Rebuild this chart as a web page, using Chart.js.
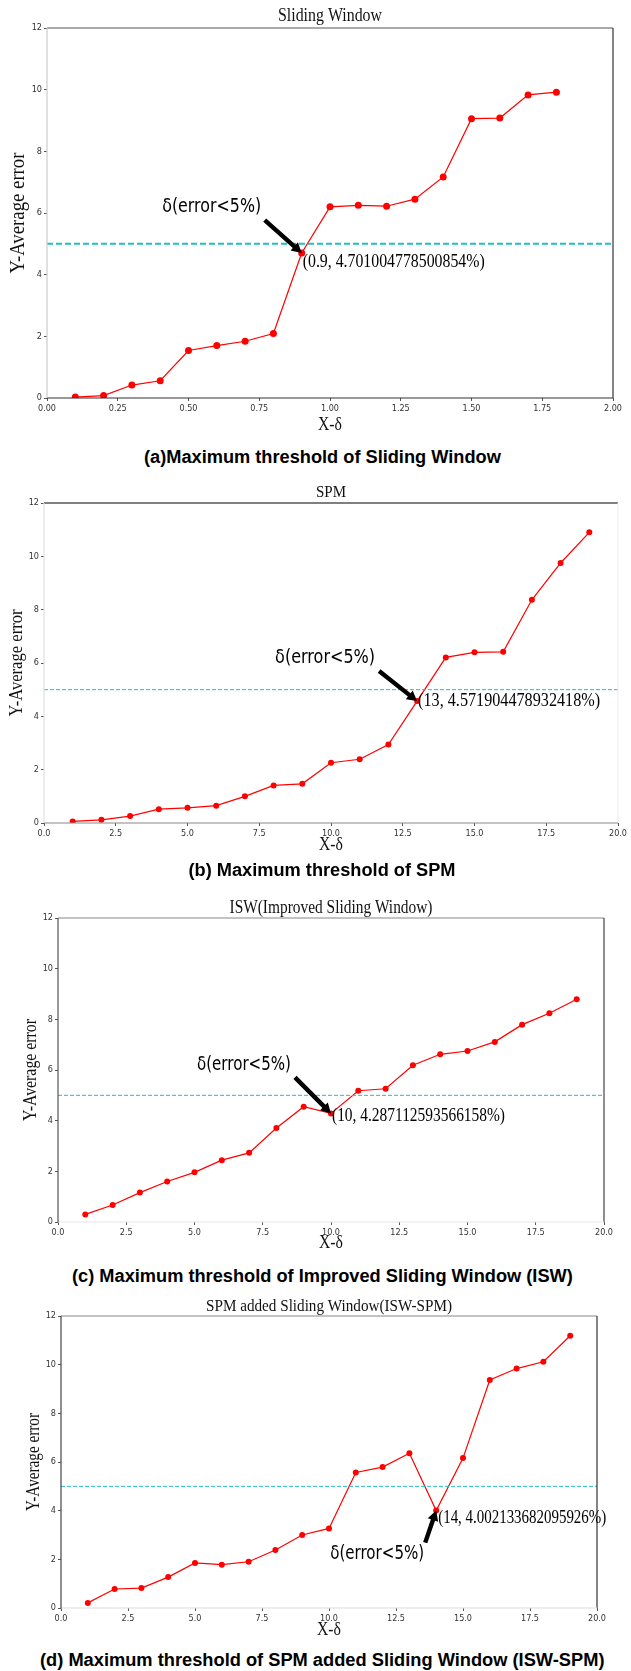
<!DOCTYPE html>
<html>
<head>
<meta charset="utf-8">
<script src="https://cdn.jsdelivr.net/npm/chart.js@4.4.1/dist/chart.umd.min.js"></script>
<style>
  body { margin: 0; background: #fff; }
  #page { position: relative; width: 631px; height: 1671px; overflow: hidden; }
  .panel { position: absolute; left: 0; width: 631px; }
  .caption {
    position: absolute; white-space: nowrap;
    font: bold 18px "Liberation Sans", Arial, sans-serif; color: #000;
    transform-origin: center center;
  }
</style>
</head>
<body>
<div id="page"></div>
<script>
// data
const xA = [0.1, 0.2, 0.3, 0.4, 0.5, 0.6, 0.7, 0.8, 0.9, 1.0, 1.1, 1.2, 1.3, 1.4, 1.5, 1.6, 1.7, 1.8];
const yA = [0.03, 0.08, 0.42, 0.56, 1.54, 1.70, 1.84, 2.09, 4.701004778500854, 6.20, 6.25, 6.22, 6.45, 7.17, 9.06, 9.08, 9.83, 9.92];

const xB = [1, 2, 3, 4, 5, 6, 7, 8, 9, 10, 11, 12, 13, 14, 15, 16, 17, 18, 19];
const yB = [0.06, 0.12, 0.26, 0.52, 0.57, 0.65, 1.0, 1.41, 1.47, 2.26, 2.39, 2.94, 4.571904478932418, 6.21, 6.40, 6.42, 8.37, 9.75, 10.9];

const xC = [1, 2, 3, 4, 5, 6, 7, 8, 9, 10, 11, 12, 13, 14, 15, 16, 17, 18, 19];
const yC = [0.30, 0.67, 1.16, 1.60, 1.96, 2.44, 2.73, 3.71, 4.55, 4.287112593566158, 5.18, 5.26, 6.19, 6.62, 6.75, 7.11, 7.79, 8.24, 8.79];

const xD = [1, 2, 3, 4, 5, 6, 7, 8, 9, 10, 11, 12, 13, 14, 15, 16, 17, 18, 19];
const yD = [0.21, 0.78, 0.82, 1.27, 1.85, 1.78, 1.90, 2.38, 3.0, 3.27, 5.57, 5.79, 6.36, 4.002133682095926, 6.16, 9.37, 9.84, 10.12, 11.19];

const threshold = 5;
const yTicks = [0, 2, 4, 6, 8, 10, 12];
const xTicksA = [0, 0.25, 0.5, 0.75, 1.0, 1.25, 1.5, 1.75, 2.0];
const xTicksB = [0, 2.5, 5, 7.5, 10, 12.5, 15, 17.5, 20];

const titles = ["Sliding Window", "SPM", "ISW(Improved Sliding Window)", "SPM added Sliding Window(ISW-SPM)"];
const captions = [
  "(a)Maximum threshold of Sliding Window",
  "(b) Maximum threshold of SPM",
  "(c) Maximum threshold of Improved Sliding Window (ISW)",
  "(d) Maximum threshold of SPM added Sliding Window (ISW-SPM)"
];
const markText = "δ(error<5%)";
const pointLabels = ["(0.9, 4.701004778500854%)", "(13, 4.571904478932418%)", "(10, 4.287112593566158%)", "(14, 4.002133682095926%)"];
const markIndex = [8, 12, 9, 13];

// layout of each panel (page pixels)
const panels = [
  { xs: xA, ys: yA, xt: xTicksA, dec: 2, L: 47, R: 613, T: 28, B: 398,
    titleY: 16, titleW: 104, titleSize: 19, ylX: 19, ylSize: 20, ylW: 121, xlY: 425,
    frame: { top: "#555", right: "#333", bottom: "#333", left: "#ccc" },
    dashW: 2, dash: [6, 3], r: 3.5,
    txt: [-90, -46, 99], tail: [-37, -33], lab: [1, 9, 182], capY: 457, capW: 357 },
  { xs: xB, ys: yB, xt: xTicksB, dec: 1, L: 44, R: 618, T: 503, B: 823,
    titleY: 493, titleW: 30, titleSize: 17, ylX: 17, ylSize: 18, ylW: 107, xlY: 845,
    frame: { top: "#000", right: "#eee", bottom: "#888", left: "#e0e0e0" },
    dashW: 1, dash: [4, 2], r: 3,
    txt: [-92, -43, 100], tail: [-38, -30], lab: [1, 0, 182], capY: 870, capW: 267 },
  { xs: xC, ys: yC, xt: xTicksB, dec: 1, L: 58, R: 604, T: 918, B: 1222,
    titleY: 908, titleW: 203, titleSize: 18, ylX: 31, ylSize: 18, ylW: 102, xlY: 1243,
    frame: { top: "#888", right: "#444", bottom: "#e6e6e6", left: "#555" },
    dashW: 1, dash: [4, 2], r: 3,
    txt: [-87, -48, 94], tail: [-36, -36], lab: [1, 3, 173], capY: 1276, capW: 501 },
  { xs: xD, ys: yD, xt: xTicksB, dec: 1, L: 61, R: 597, T: 1316, B: 1608,
    titleY: 1307, titleW: 246, titleSize: 17, ylX: 34, ylSize: 18, ylW: 98, xlY: 1630,
    frame: { top: "#888", right: "#333", bottom: "#ddd", left: "#444" },
    dashW: 1, dash: [4, 2], r: 3,
    txt: [-59, 43, 94], tail: [-11, 32], lab: [2, 7, 168], capY: 1660, capW: 564 }
];

const YAXW = 26, XAXH = 16;

function fitText(ctx, text, x, y, w, align) {
  const s = w / ctx.measureText(text).width;
  ctx.save();
  ctx.translate(x, y);
  ctx.scale(s, 1);
  ctx.textAlign = align || "center";
  ctx.textBaseline = "middle";
  ctx.fillText(text, 0, 0);
  ctx.restore();
}

function arrow(ctx, x1, y1, x2, y2) {
  const a = Math.atan2(y2 - y1, x2 - x1);
  const len = Math.hypot(x2 - x1, y2 - y1);
  ctx.save();
  ctx.translate(x1, y1);
  ctx.rotate(a);
  ctx.beginPath();
  ctx.moveTo(0, -2.2);
  ctx.lineTo(len - 10, -2.2);
  ctx.lineTo(len - 10, -5.5);
  ctx.lineTo(len, 0);
  ctx.lineTo(len - 10, 5.5);
  ctx.lineTo(len - 10, 2.2);
  ctx.lineTo(0, 2.2);
  ctx.closePath();
  ctx.fillStyle = "#000";
  ctx.fill();
  ctx.restore();
}

const extras = {
  id: "extras",
  afterDraw(chart) {
    const p = chart.options.plugins.extras.p;
    const i = chart.options.plugins.extras.i;
    const ctx = chart.ctx;
    const a = chart.chartArea;
    ctx.save();
    // frame
    const side = (c, x1, y1, x2, y2) => {
      ctx.strokeStyle = c; ctx.lineWidth = 1.2;
      ctx.beginPath(); ctx.moveTo(x1, y1); ctx.lineTo(x2, y2); ctx.stroke();
    };
    side(p.frame.top, a.left, a.top, a.right, a.top);
    side(p.frame.right, a.right, a.top, a.right, a.bottom);
    side(p.frame.bottom, a.left, a.bottom, a.right, a.bottom);
    side(p.frame.left, a.left, a.top, a.left, a.bottom);

    const off = p.T - 28;
    ctx.fillStyle = "#111";
    ctx.font = p.titleSize + 'px "Liberation Serif"';
    fitText(ctx, titles[i], (a.left + a.right) / 2, p.titleY - off, p.titleW);

    ctx.font = p.ylSize + 'px "Liberation Serif"';
    ctx.save();
    ctx.translate(p.ylX, (a.top + a.bottom) / 2);
    ctx.rotate(-Math.PI / 2);
    fitText(ctx, "Y-Average error", 0, 0, p.ylW);
    ctx.restore();

    ctx.font = '19px "Liberation Serif"';
    fitText(ctx, "X-δ", (a.left + a.right) / 2, p.xlY - off, 24);

    // annotation
    const pt = chart.getDatasetMeta(0).data[markIndex[i]];
    ctx.fillStyle = "#000";
    ctx.font = '19px "DejaVu Sans"';
    fitText(ctx, markText, pt.x + p.txt[0], pt.y + p.txt[1], p.txt[2]);
    arrow(ctx, pt.x + p.tail[0], pt.y + p.tail[1], pt.x, pt.y);
    ctx.font = '19px "Liberation Serif"';
    fitText(ctx, pointLabels[i], pt.x + p.lab[0], pt.y + p.lab[1], p.lab[2], "left");
    ctx.restore();
  }
};

const page = document.getElementById("page");

panels.forEach((p, i) => {
  const top = p.T - 28;
  const h = (p.B - p.T) + 28 + 42;
  const div = document.createElement("div");
  div.className = "panel";
  div.style.top = top + "px";
  div.style.height = h + "px";
  const cv = document.createElement("canvas");
  div.appendChild(cv);
  page.appendChild(div);

  const xmin = p.xt[0], xmax = p.xt[p.xt.length - 1];
  new Chart(cv, {
    type: "line",
    data: {
      datasets: [
        {
          data: p.xs.map((x, k) => ({ x: x, y: p.ys[k] })),
          borderColor: "#ff0000",
          backgroundColor: "#ff0000",
          borderWidth: 1.2,
          pointRadius: p.r,
          pointBorderWidth: 0,
          tension: 0,
          order: 1
        },
        {
          data: [{ x: xmin, y: threshold }, { x: xmax, y: threshold }],
          borderColor: "#1fbfc4",
          borderWidth: p.dashW,
          borderDash: p.dash,
          pointRadius: 0,
          order: 0
        }
      ]
    },
    options: {
      responsive: true,
      maintainAspectRatio: false,
      animation: false,
      events: [],
      layout: { padding: { left: p.L - YAXW, right: 631 - p.R, top: 28, bottom: 42 - XAXH } },
      plugins: { legend: { display: false }, tooltip: { enabled: false }, extras: { p: p, i: i } },
      scales: {
        x: {
          type: "linear", min: xmin, max: xmax,
          afterFit: s => { s.height = XAXH; },
          afterBuildTicks: s => { s.ticks = p.xt.map(v => ({ value: v })); },
          border: { display: false },
          grid: { drawOnChartArea: false, drawTicks: true, tickLength: 3, color: "#555" },
          ticks: {
            padding: 2, maxRotation: 0, autoSkip: false, color: "#333",
            font: { family: "DejaVu Sans Condensed", size: 9 },
            callback: v => Number(v).toFixed(p.dec)
          }
        },
        y: {
          min: 0, max: 12,
          afterFit: s => { s.width = YAXW; },
          afterBuildTicks: s => { s.ticks = yTicks.map(v => ({ value: v })); },
          border: { display: false },
          grid: { drawOnChartArea: false, drawTicks: true, tickLength: 3, color: "#555" },
          ticks: {
            padding: 2, color: "#333",
            font: { family: "DejaVu Sans Condensed", size: 9 },
            callback: v => String(v)
          }
        }
      }
    },
    plugins: [extras]
  });

  const cap = document.createElement("span");
  cap.className = "caption";
  cap.textContent = captions[i];
  page.appendChild(cap);
  const w = cap.offsetWidth, hh = cap.offsetHeight;
  cap.style.left = (322 - w / 2) + "px";
  cap.style.top = (p.capY - hh / 2) + "px";
  cap.style.transform = "scaleX(" + (p.capW / w) + ")";
});
</script>
</body>
</html>
